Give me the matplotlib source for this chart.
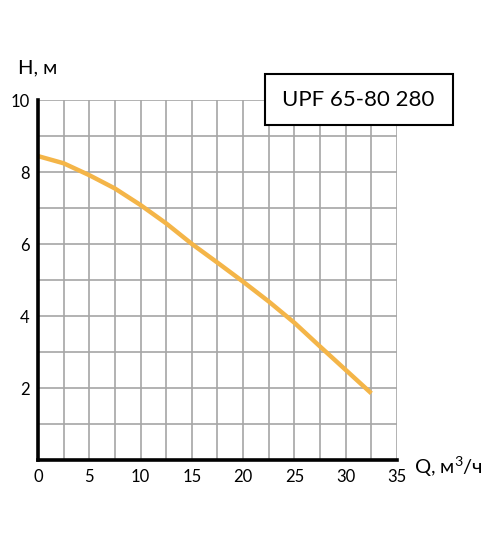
import matplotlib
matplotlib.use('Agg')
import matplotlib.pyplot as plt
from matplotlib.patches import Rectangle

plt.rcParams['font.family'] = ['Lato', 'DejaVu Sans']
plt.rcParams['mathtext.fontset'] = 'custom'
plt.rcParams['mathtext.rm'] = 'Lato'
plt.rcParams['mathtext.it'] = 'Lato'

# напорная характеристика насоса
q = [0, 2.5, 5, 7.5, 10, 12.5, 15, 17.5, 20, 22.5, 25, 27.5, 30, 32.5]
h = [8.45, 8.25, 7.92, 7.55, 7.09, 6.58, 6.01, 5.49, 4.96, 4.41, 3.82, 3.16, 2.51, 1.86]

x_ticks = [0, 5, 10, 15, 20, 25, 30, 35]
y_ticks = [2, 4, 6, 8, 10]
model = 'UPF 65-80 280'

fig = plt.figure(figsize=(5, 5.38), dpi=100)
ax = fig.add_axes([0.076, 0.1444, 0.718, 0.6692])

# сетка
for gx in [i * 2.5 for i in range(1, 15)]:
    ax.axvline(gx, color='#a6a6a6', lw=1.2, zorder=1)
for gy in range(1, 11):
    ax.axhline(gy, color='#a6a6a6', lw=1.2, zorder=1)

ax.plot(q, h, color='#f4b548', lw=3.2, solid_capstyle='butt',
        solid_joinstyle='round', zorder=3)

ax.set_xlim(0, 35)
ax.set_ylim(0, 10)
ax.set_xticks(x_ticks)
ax.set_yticks(y_ticks)
ax.tick_params(length=0, labelsize=12, pad=6)
for s in ['top', 'right']:
    ax.spines[s].set_visible(False)
for s in ['left', 'bottom']:
    ax.spines[s].set_linewidth(2.6)
    ax.spines[s].set_zorder(4)

fig.text(0.036, 0.873, 'H, м', fontsize=14.5, va='center', ha='left')
fig.text(0.828, 0.132, 'Q, м$^3$/ч', fontsize=14.5, va='center', ha='left')

# рамка с названием модели
fig.patches.append(Rectangle((0.53, 0.7677), 0.376, 0.0948, transform=fig.transFigure,
                             facecolor='white', edgecolor='black', lw=1.5, zorder=5))
fig.text(0.563, 0.8138, model, fontsize=16, va='center', ha='left', zorder=6)

fig.savefig('out.png', dpi=100)
